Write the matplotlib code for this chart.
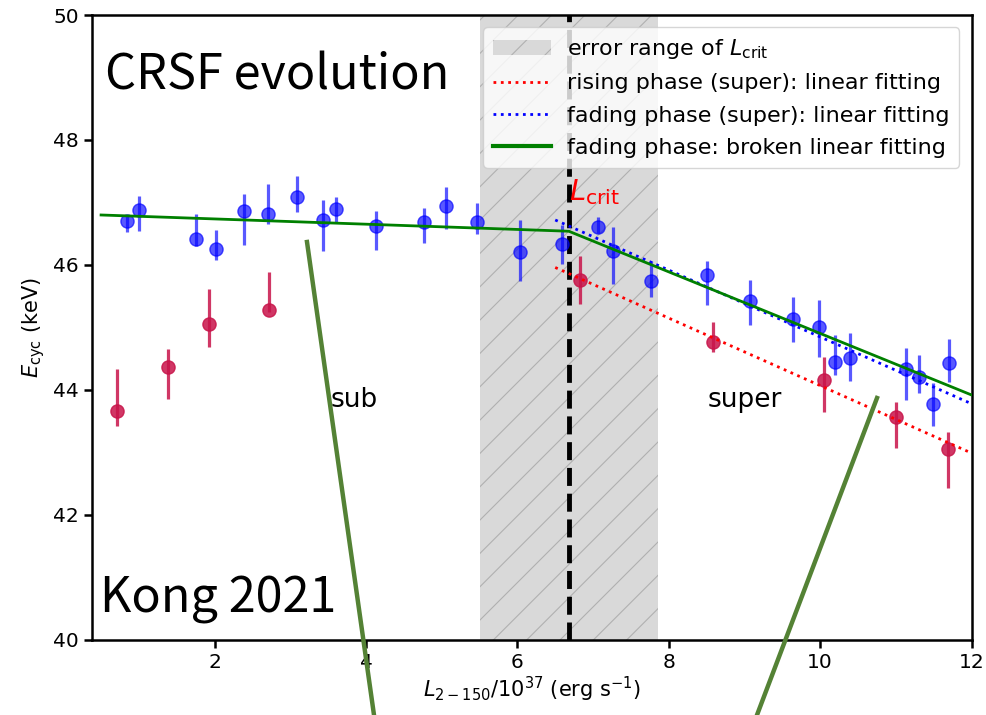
import matplotlib
matplotlib.use("Agg")
import matplotlib.pyplot as plt
import numpy as np
from matplotlib.patches import Patch
from matplotlib.lines import Line2D

# fading phase (blue): L, E, lower bound, upper bound
fade_L = [0.84, 1.00, 1.75, 2.02, 2.39, 2.70, 3.09, 3.43, 3.61, 4.13, 4.76, 5.06, 5.47,
          6.03, 6.59, 7.06, 7.26, 7.77, 8.50, 9.07, 9.64, 9.98, 10.20, 10.39, 11.14,
          11.31, 11.49, 11.70]
fade_E = [46.71, 46.88, 46.42, 46.26, 46.86, 46.82, 47.09, 46.72, 46.90, 46.62, 46.69, 46.95,
          46.68, 46.20, 46.33, 46.60, 46.22, 45.74, 45.84, 45.43, 45.14, 45.01, 44.44, 44.51,
          44.33, 44.20, 43.78, 44.43]
fade_lo = [46.53, 46.55, 46.30, 46.08, 46.32, 46.66, 46.84, 46.22, 46.68, 46.24, 46.35, 46.57,
           46.50, 45.74, 46.01, 46.51, 45.70, 45.49, 45.36, 45.04, 44.76, 44.53, 44.24, 44.15,
           43.84, 43.95, 43.43, 44.13]
fade_hi = [46.80, 47.10, 46.82, 46.56, 47.13, 47.29, 47.43, 47.04, 47.09, 46.87, 46.91, 47.24,
           46.99, 46.72, 46.64, 46.77, 46.60, 46.06, 46.07, 45.76, 45.49, 45.44, 44.88, 44.91,
           44.67, 44.56, 44.11, 44.81]

# rising phase (red)
rise_L = [0.71, 1.38, 1.93, 2.72, 6.83, 8.58, 10.05, 11.00, 11.69]
rise_E = [43.67, 44.36, 45.06, 45.28, 45.76, 44.77, 44.16, 43.57, 43.05]
rise_lo = [43.43, 43.86, 44.69, 45.25, 45.38, 44.61, 43.65, 43.07, 42.43]
rise_hi = [44.33, 44.66, 45.62, 45.89, 46.14, 45.09, 44.53, 43.80, 43.33]

# fits
broken_L = [0.5, 6.68, 12.0]
broken_E = [46.80, 46.54, 43.92]
fade_fit_L = [6.5, 12.0]
fade_fit_E = [46.72, 43.78]
rise_fit_L = [6.5, 12.0]
rise_fit_E = [45.96, 42.99]

L_crit = 6.68
L_crit_range = [5.5, 7.86]

plt.rcParams["hatch.linewidth"] = 0.8

fig = plt.figure(figsize=(9.86, 7.15), dpi=100)
ax = fig.add_axes([0.0933, 0.105, 0.892, 0.874])

ax.axvspan(L_crit_range[0], L_crit_range[1], facecolor="#d9d9d9", edgecolor="#b0b0b0",
           hatch="/", linewidth=0, zorder=0)
ax.axvline(L_crit, color="black", ls="--", lw=3.5, zorder=3)

fe = np.array(fade_E)
ax.errorbar(fade_L, fade_E, yerr=[fe - np.array(fade_lo), np.array(fade_hi) - fe],
            fmt="o", color="blue", ms=9.5, elinewidth=2.3, alpha=0.65, zorder=4)
re = np.array(rise_E)
ax.errorbar(rise_L, rise_E, yerr=[re - np.array(rise_lo), np.array(rise_hi) - re],
            fmt="o", color="#c8144a", ms=9.5, elinewidth=2.3, alpha=0.85, zorder=4)

ax.plot(rise_fit_L, rise_fit_E, ls=":", color="red", lw=2, zorder=5)
ax.plot(fade_fit_L, fade_fit_E, ls=":", color="blue", lw=2, zorder=5)
ax.plot(broken_L, broken_E, "-", color="green", lw=2, zorder=6)

ax.text(L_crit, 46.93, r"$L_{\rm crit}$", color="red", fontsize=21, ha="left", va="bottom")
ax.text(3.85, 43.84, "sub", fontsize=19, ha="center", va="center")
ax.text(9.0, 43.84, "super", fontsize=19, ha="center", va="center")

ax.set_xlim(0.38, 12)
ax.set_ylim(40, 50)
ax.set_xticks([2, 4, 6, 8, 10, 12])
ax.set_yticks([40, 42, 44, 46, 48, 50])
ax.tick_params(labelsize=14.5, width=1.8, length=6)
for s in ax.spines.values():
    s.set_linewidth(1.8)
ax.set_xlabel(r"$L_{2-150}/10^{37}$ (erg s$^{-1}$)", fontsize=15, labelpad=2)
ax.set_ylabel(r"$E_{\rm cyc}$ (keV)", fontsize=15)

handles = [
    Patch(facecolor="#d9d9d9", edgecolor="#b0b0b0", hatch="/", linewidth=0,
          label=r"error range of $L_{\rm crit}$"),
    Line2D([], [], ls=":", color="red", lw=2, label="rising phase (super): linear fitting"),
    Line2D([], [], ls=":", color="blue", lw=2, label="fading phase (super): linear fitting"),
    Line2D([], [], ls="-", color="green", lw=3, label="fading phase: broken linear fitting"),
]
ax.legend(handles=handles, loc="upper right", fontsize=16, handlelength=2.6,
          handletextpad=0.7, labelspacing=0.55, borderpad=0.45, borderaxespad=0.55)

big = ["Noto Sans CJK SC", "DejaVu Sans"]
fig.text(105 / 986, 1 - 90 / 715, "CRSF evolution", fontsize=35, family=big, va="baseline")
fig.text(100 / 986, 1 - 613 / 715, "Kong 2021", fontsize=35, family=big, va="baseline")

# green callout strokes
for (x0, y0), (x1, y1) in [((307, 242), (374, 715)), ((877, 398), (757, 715))]:
    fig.add_artist(Line2D([x0 / 986, x1 / 986], [1 - y0 / 715, 1 - y1 / 715],
                          transform=fig.transFigure, color="#548235", lw=3.2))

fig.savefig("out.png", dpi=100)
